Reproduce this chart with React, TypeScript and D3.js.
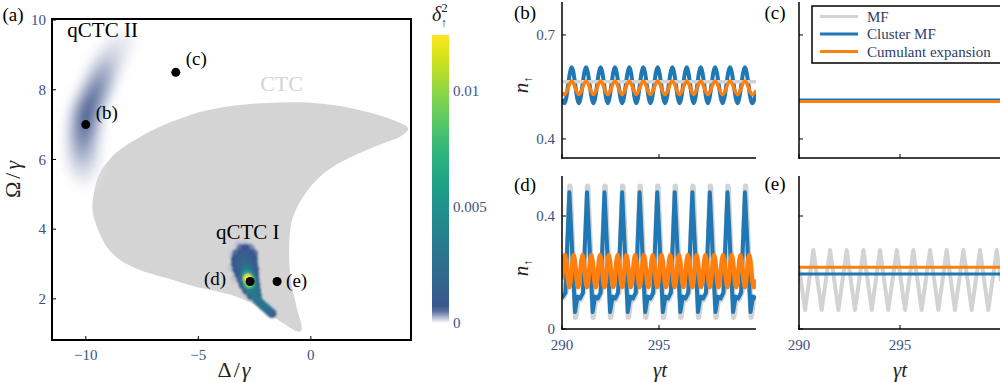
import React from 'react';
import * as d3 from 'd3';

const SERIF = '"Liberation Serif", "DejaVu Serif", serif';
const TICK_COLOR = '#3d5083';
const LEG_COLOR = '#2f3d66';
const C_MF = '#d3d3d3';
const C_CL = '#1f77b4';
const C_CU = '#ff7f0e';

// ---------- panel (a) data ----------
const deltaTicks = [-10, -5, 0];
const omegaTicks = [2, 4, 6, 8, 10];
const cbTicks = [0, 0.005, 0.01];
const cbTickLabels = ['0', '0.005', '0.01'];

// CTC region boundary (Δ/γ, Ω/γ)
const ctcBoundary: [number, number][] = [
  [-9.70, 4.74], [-9.57, 5.25], [-9.40, 5.58], [-9.05, 5.92], [-8.64, 6.20], [-8.1, 6.45],
  [-7.6, 6.64], [-7.0, 6.85], [-6.3, 7.05], [-5.5, 7.24], [-4.93, 7.36], [-3.45, 7.54],
  [-1.97, 7.62], [-0.49, 7.64], [0.99, 7.56], [2.47, 7.37], [3.66, 7.13], [4.32, 6.89],
  [3.96, 6.65], [3.21, 6.46], [2.47, 6.27], [0.99, 5.79], [0.25, 5.41], [-0.34, 4.93],
  [-0.79, 4.36], [-0.93, 3.88], [-0.96, 3.12], [-0.86, 2.45], [-0.64, 1.78], [-0.41, 1.11],
  [-0.56, 1.06], [-1.23, 1.30], [-1.97, 1.62], [-2.71, 1.90], [-3.45, 2.10], [-4.19, 2.22],
  [-4.93, 2.32], [-5.4, 2.40], [-6.41, 2.60], [-7.60, 2.83], [-8.49, 3.12], [-9.08, 3.50],
  [-9.45, 3.98], [-9.68, 4.46],
];

// qCTC I samples (Δ/γ, Ω/γ, δ²)
const qctc1: [number, number, number][] = [
  [-3.45, 3.25, 0.0002], [-3.2, 3.55, 0.0002], [-2.9, 3.55, 0.0002], [-3.5, 2.9, 0.0002], [-3.35, 2.6, 0.0002],
  [-3.1, 3.45, 0.0005], [-2.9, 3.45, 0.0006], [-2.7, 3.45, 0.0004],
  [-3.3, 3.3, 0.0005], [-3.1, 3.3, 0.0009], [-2.9, 3.3, 0.001], [-2.7, 3.3, 0.0009], [-2.55, 3.3, 0.0005],
  [-3.35, 3.15, 0.0007], [-3.15, 3.15, 0.0012], [-2.95, 3.15, 0.0015], [-2.75, 3.15, 0.0012], [-2.55, 3.15, 0.0008],
  [-3.35, 3.0, 0.0008], [-3.15, 3.0, 0.0014], [-2.95, 3.0, 0.002], [-2.75, 3.0, 0.0018], [-2.55, 3.0, 0.001],
  [-3.3, 2.85, 0.0008], [-3.1, 2.85, 0.0015], [-2.9, 2.85, 0.003], [-2.7, 2.85, 0.0022], [-2.5, 2.85, 0.001],
  [-3.2, 2.7, 0.0009], [-3.0, 2.7, 0.002], [-2.85, 2.7, 0.006], [-2.7, 2.7, 0.004], [-2.5, 2.7, 0.0012],
  [-3.1, 2.55, 0.001], [-2.95, 2.55, 0.0035], [-2.8, 2.58, 0.0124], [-2.65, 2.55, 0.006], [-2.48, 2.55, 0.0015],
  [-3.0, 2.4, 0.001], [-2.85, 2.4, 0.004], [-2.74, 2.44, 0.0095], [-2.58, 2.4, 0.004], [-2.45, 2.4, 0.0015],
  [-2.85, 2.25, 0.0012], [-2.7, 2.25, 0.0035], [-2.55, 2.25, 0.003], [-2.42, 2.25, 0.0015],
  [-2.65, 2.1, 0.0015], [-2.5, 2.1, 0.003], [-2.38, 2.1, 0.002],
  [-2.4, 1.98, 0.0025], [-2.28, 1.9, 0.003], [-2.15, 1.82, 0.002], [-2.03, 1.75, 0.0028],
  [-1.92, 1.69, 0.0015], [-1.82, 1.63, 0.002], [-1.73, 1.58, 0.001],
];

// qCTC II samples (Δ/γ, Ω/γ, δ²)
const qctc2: [number, number, number][] = [
  [-8.5, 9.35, 0.00008], [-8.8, 9.05, 0.00013], [-9.05, 8.75, 0.0002], [-9.25, 8.45, 0.0003],
  [-9.45, 8.15, 0.00038], [-9.65, 7.85, 0.00046], [-9.85, 7.55, 0.00052], [-9.98, 7.25, 0.00055],
  [-10.05, 6.95, 0.0005], [-10.1, 6.65, 0.00042], [-10.12, 6.35, 0.00032], [-10.12, 6.05, 0.00022],
  [-10.1, 5.75, 0.00012], [-10.05, 5.45, 0.00006],
  [-8.85, 9.3, 0.00005], [-9.15, 9.0, 0.00008], [-9.4, 8.7, 0.00012], [-9.6, 8.4, 0.00016],
  [-9.8, 8.1, 0.0002], [-10.0, 7.8, 0.00024], [-10.2, 7.5, 0.00026], [-10.33, 7.2, 0.00026],
  [-10.4, 6.9, 0.00024], [-10.45, 6.6, 0.0002], [-10.45, 6.3, 0.00016], [-10.45, 6.0, 0.00012],
  [-10.4, 5.7, 0.00007],
  [-8.15, 9.4, 0.00005], [-8.45, 9.1, 0.00008], [-8.7, 8.8, 0.00012], [-8.9, 8.5, 0.00016],
  [-9.1, 8.2, 0.0002], [-9.3, 7.9, 0.00024], [-9.5, 7.6, 0.00026], [-9.63, 7.3, 0.00026],
  [-9.7, 7.0, 0.00024], [-9.75, 6.7, 0.0002], [-9.77, 6.4, 0.00016], [-9.77, 6.1, 0.00012],
  [-9.75, 5.8, 0.00007],
];

const markerDelta = [-10, -6, -2.7, -1.5];
const markerOmega = [7, 8.5, 2.5, 2.5];
const markerLabels = ['(b)', '(c)', '(d)', '(e)'];

// ---------- time series ----------
const tTicks = [290, 295];
const tTickLabels = ['290', '295'];
const bTicks = [0.4, 0.7];
const dTicks = [0, 0.4];

type P = [number, number];
const bMF: P[] = [[290, 0.565], [300, 0.565]];
const bCluster: P[] = [
  [290, 0.515], [290.13, 0.503], [290.50, 0.607], [290.87, 0.503], [291.24, 0.607], [291.62, 0.503],
  [291.99, 0.607], [292.36, 0.503], [292.73, 0.607], [293.10, 0.503], [293.47, 0.607], [293.83, 0.503],
  [294.19, 0.607], [294.56, 0.503], [294.93, 0.607], [295.31, 0.503], [295.69, 0.607], [296.06, 0.503],
  [296.43, 0.607], [296.79, 0.503], [297.15, 0.607], [297.52, 0.503], [297.89, 0.607], [298.28, 0.503],
  [298.66, 0.607], [299.05, 0.503], [299.43, 0.607], [299.80, 0.503], [300, 0.53],
];
const bCumulant: P[] = [
  [290, 0.533], [290.13, 0.528], [290.50, 0.567], [290.87, 0.528], [291.24, 0.567], [291.62, 0.528],
  [291.99, 0.567], [292.36, 0.528], [292.73, 0.567], [293.10, 0.528], [293.47, 0.567], [293.83, 0.528],
  [294.19, 0.567], [294.56, 0.528], [294.93, 0.567], [295.31, 0.528], [295.69, 0.567], [296.06, 0.528],
  [296.43, 0.567], [296.79, 0.528], [297.15, 0.567], [297.52, 0.528], [297.89, 0.567], [298.28, 0.528],
  [298.66, 0.567], [299.05, 0.528], [299.43, 0.567], [299.80, 0.528], [300, 0.54],
];

const cMF: P[] = [[290, 0.511], [300, 0.511]];
const cCluster: P[] = [[290, 0.5125], [300, 0.5125]];
const cCumulant: P[] = [[290, 0.508], [300, 0.508]];

const dCluster: P[] = [
  [290, 0.110], [290.175, 0.128],
  [290.38, 0.484], [290.67, 0.060], [290.80, 0.115], [290.93, 0.108], [291.08, 0.128],
  [291.29, 0.484], [291.58, 0.060], [291.71, 0.115], [291.84, 0.108], [291.99, 0.128],
  [292.19, 0.484], [292.48, 0.060], [292.61, 0.115], [292.74, 0.108], [292.89, 0.128],
  [293.10, 0.484], [293.39, 0.060], [293.52, 0.115], [293.65, 0.108], [293.80, 0.128],
  [294.00, 0.484], [294.29, 0.060], [294.42, 0.115], [294.55, 0.108], [294.70, 0.128],
  [294.91, 0.484], [295.20, 0.060], [295.33, 0.115], [295.46, 0.108], [295.61, 0.128],
  [295.81, 0.484], [296.10, 0.060], [296.23, 0.115], [296.36, 0.108], [296.51, 0.128],
  [296.72, 0.484], [297.01, 0.060], [297.14, 0.115], [297.27, 0.108], [297.42, 0.128],
  [297.62, 0.484], [297.91, 0.060], [298.04, 0.115], [298.17, 0.108], [298.32, 0.128],
  [298.53, 0.484], [298.82, 0.060], [298.95, 0.115], [299.08, 0.108], [299.23, 0.128],
  [299.43, 0.484], [299.72, 0.060], [299.85, 0.115], [300, 0.108],
];
const dMF: P[] = [
  [290, 0.105], [290.205, 0.130],
  [290.41, 0.505], [290.70, 0.042], [290.83, 0.110], [290.96, 0.104], [291.11, 0.130],
  [291.32, 0.505], [291.61, 0.042], [291.74, 0.110], [291.87, 0.104], [292.02, 0.130],
  [292.22, 0.505], [292.51, 0.042], [292.64, 0.110], [292.77, 0.104], [292.92, 0.130],
  [293.13, 0.505], [293.42, 0.042], [293.55, 0.110], [293.68, 0.104], [293.83, 0.130],
  [294.03, 0.505], [294.32, 0.042], [294.45, 0.110], [294.58, 0.104], [294.73, 0.130],
  [294.94, 0.505], [295.23, 0.042], [295.36, 0.110], [295.49, 0.104], [295.64, 0.130],
  [295.84, 0.505], [296.13, 0.042], [296.26, 0.110], [296.39, 0.104], [296.54, 0.130],
  [296.75, 0.505], [297.04, 0.042], [297.17, 0.110], [297.30, 0.104], [297.45, 0.130],
  [297.65, 0.505], [297.94, 0.042], [298.07, 0.110], [298.20, 0.104], [298.35, 0.130],
  [298.56, 0.505], [298.85, 0.042], [298.98, 0.110], [299.11, 0.104], [299.26, 0.130],
  [299.46, 0.505], [299.75, 0.042], [299.88, 0.110], [300, 0.106],
];
const dCumulant: P[] = [
  [290, 0.175],
  [290.15, 0.262], [290.38, 0.148], [290.60, 0.262], [290.83, 0.148], [291.06, 0.262], [291.29, 0.148],
  [291.51, 0.262], [291.74, 0.148], [291.96, 0.262], [292.19, 0.148], [292.41, 0.262], [292.64, 0.148],
  [292.87, 0.262], [293.10, 0.148], [293.32, 0.262], [293.55, 0.148], [293.77, 0.262], [294.00, 0.148],
  [294.22, 0.262], [294.45, 0.148], [294.68, 0.262], [294.91, 0.148], [295.13, 0.262], [295.36, 0.148],
  [295.58, 0.262], [295.81, 0.148], [296.03, 0.262], [296.26, 0.148], [296.49, 0.262], [296.72, 0.148],
  [296.94, 0.262], [297.17, 0.148], [297.39, 0.262], [297.62, 0.148], [297.84, 0.262], [298.07, 0.148],
  [298.30, 0.262], [298.53, 0.148], [298.75, 0.262], [298.98, 0.148], [299.20, 0.262], [299.43, 0.148],
  [299.65, 0.262], [299.88, 0.148], [300, 0.175],
];

const eMF: P[] = [
  [290, 0.22], [290.30, 0.067], [290.71, 0.28], [291.12, 0.067], [291.54, 0.28], [291.95, 0.067],
  [292.36, 0.28], [292.77, 0.067], [293.19, 0.28], [293.60, 0.067], [294.01, 0.28], [294.42, 0.067],
  [294.84, 0.28], [295.25, 0.067], [295.66, 0.28], [296.07, 0.067], [296.49, 0.28], [296.90, 0.067],
  [297.31, 0.28], [297.72, 0.067], [298.14, 0.28], [298.55, 0.067], [298.96, 0.28], [299.37, 0.067],
  [299.79, 0.28], [300, 0.17],
];
const eCluster: P[] = [[290, 0.195], [300, 0.195]];
const eCumulant: P[] = [[290, 0.219], [300, 0.219]];

const legendLabels = ['MF', 'Cluster MF', 'Cumulant expansion'];
const legendColors = [C_MF, C_CL, C_CU];

// colour map: truncated viridis with white fade at the bottom
const CB_MAX = 0.0124;
const FADE = 0.0006;
function cmap(v: number): string {
  const t = Math.max(0, Math.min(1, v / CB_MAX));
  const vir = d3.interpolateViridis(0.24 + 0.76 * Math.pow(t, 1.15));
  const f = Math.max(0, Math.min(1, v / FADE));
  return d3.interpolateRgb('#ffffff', vir)(f);
}

type PanelProps = {
  id: string;
  left: number; right: number; top: number; bottom: number;
  yDomain: [number, number];
  yTicks: number[];
  yLabels: boolean;
  xLabels: boolean;
  series: { data: P[]; color: string; width: number; curve: any }[];
};

function Panel(p: PanelProps) {
  const x = d3.scaleLinear().domain([290, 300]).range([p.left, p.right]);
  const y = d3.scaleLinear().domain(p.yDomain).range([p.bottom, p.top]);
  return (
    <g>
      <defs>
        <clipPath id={p.id}>
          <rect x={p.left} y={p.top - 4} width={p.right - p.left} height={p.bottom - p.top + 4} />
        </clipPath>
      </defs>
      <g clipPath={`url(#${p.id})`}>
        {p.series.map((s, i) => {
          const line = d3.line<P>().x(d => x(d[0])).y(d => y(d[1])).curve(s.curve);
          return (
            <path key={i} d={line(s.data) || ''} fill="none" stroke={s.color}
              strokeWidth={s.width} strokeLinejoin="round" strokeLinecap="butt" />
          );
        })}
      </g>
      <line x1={p.left} x2={p.left} y1={p.top} y2={p.bottom + 0.75} stroke="#000" strokeWidth={1.5} />
      <line x1={p.left - 0.75} x2={p.right} y1={p.bottom} y2={p.bottom} stroke="#000" strokeWidth={1.5} />
      {p.yTicks.map((v, i) => (
        <g key={'y' + i}>
          <line x1={p.left} x2={p.left + 4} y1={y(v)} y2={y(v)} stroke="#000" strokeWidth={1} />
          {p.yLabels && (
            <text x={p.left - 7} y={y(v)} dy="0.35em" textAnchor="end" fontSize={15}
              fontFamily={SERIF} fill={TICK_COLOR}>{String(v)}</text>
          )}
        </g>
      ))}
      {tTicks.map((v, i) => (
        <g key={'x' + i}>
          <line x1={x(v)} x2={x(v)} y1={p.bottom} y2={p.bottom - 4} stroke="#000" strokeWidth={1} />
          {p.xLabels && (
            <text x={x(v)} y={p.bottom + 21} textAnchor="middle" fontSize={15}
              fontFamily={SERIF} fill={TICK_COLOR}>{tTickLabels[i]}</text>
          )}
        </g>
      ))}
    </g>
  );
}

export default function App() {
  const xA = d3.scaleLinear().domain([-11.5, 4.45]).range([52, 411]);
  const yA = d3.scaleLinear().domain([0.82, 10.03]).range([340, 19]);
  const cbY = d3.scaleLinear().domain([0, CB_MAX]).range([323, 35]);

  const ctcPath = d3.line<[number, number]>()
    .x(d => xA(d[0])).y(d => yA(d[1]))
    .curve(d3.curveCatmullRomClosed.alpha(0.5))(ctcBoundary) || '';

  const q1 = [...qctc1].sort((a, b) => a[2] - b[2]);
  const q2 = [...qctc2].sort((a, b) => a[2] - b[2]);

  const gradStops = d3.range(0, 1.0001, 0.02).map(t => ({ t, c: cmap(t * CB_MAX) }));

  const labelOffsets: [number, number, string][] = [
    [10, -12, 'start'], [10, -14, 'start'], [-24, -3, 'end'], [9, -1, 'start'],
  ];

  const panelB = {
    left: 562, right: 756, top: 2, bottom: 158, yDomain: [0.345, 0.795] as [number, number],
  };
  const panelD = {
    left: 562, right: 756, top: 176, bottom: 329, yDomain: [0, 0.5416] as [number, number],
  };

  return (
    <svg width={1000} height={382} style={{ position: 'absolute', left: 0, top: 0, background: '#fff' }}
      fontFamily={SERIF}>
      <defs>
        <clipPath id="clipA"><rect x={52} y={19} width={359} height={321} /></clipPath>
        <filter id="blurBig" x="-50%" y="-50%" width="200%" height="200%">
          <feGaussianBlur stdDeviation={6} />
        </filter>
        <filter id="blurSmall" x="-50%" y="-50%" width="200%" height="200%">
          <feGaussianBlur stdDeviation={1.1} />
        </filter>
        <linearGradient id="cbGrad" x1="0" y1="1" x2="0" y2="0">
          {gradStops.map((s, i) => <stop key={i} offset={s.t} stopColor={s.c} />)}
        </linearGradient>
      </defs>

      {/* panel (a) */}
      <g clipPath="url(#clipA)">
        <path d={ctcPath} fill="#d4d4d4" />
        <g filter="url(#blurBig)">
          {q2.map((d, i) => (
            <circle key={i} cx={xA(d[0])} cy={yA(d[1])} r={9} fill={cmap(d[2])} />
          ))}
        </g>
        <g filter="url(#blurSmall)">
          {q1.map((d, i) => (
            <circle key={i} cx={xA(d[0])} cy={yA(d[1])} r={4.6} fill={cmap(d[2])} />
          ))}
        </g>
      </g>
      <text x={xA(-1.3)} y={yA(7.95)} textAnchor="middle" fontSize={22} fill="#d4d4d4">CTC</text>
      <text x={xA(-9.25)} y={yA(9.5)} textAnchor="middle" fontSize={21} fill="#000">qCTC II</text>
      <text x={xA(-2.8)} y={yA(3.72)} textAnchor="middle" fontSize={21} fill="#000">qCTC I</text>
      {markerDelta.map((dv, i) => (
        <g key={i}>
          <circle cx={xA(dv)} cy={yA(markerOmega[i])} r={4.5} fill="#000" />
          <text x={xA(dv) + labelOffsets[i][0]} y={yA(markerOmega[i]) + labelOffsets[i][1]} dy="0.35em"
            textAnchor={labelOffsets[i][2] as any} fontSize={19} fill="#000">{markerLabels[i]}</text>
        </g>
      ))}
      <rect x={52} y={19} width={359} height={321} fill="none" stroke="#000" strokeWidth={2} />
      {deltaTicks.map((v, i) => (
        <g key={'dx' + i}>
          <line x1={xA(v)} x2={xA(v)} y1={340} y2={336} stroke="#000" strokeWidth={1} />
          <text x={xA(v)} y={360} textAnchor="middle" fontSize={15} fill={TICK_COLOR}>
            {v < 0 ? '\u2212' + Math.abs(v) : String(v)}
          </text>
        </g>
      ))}
      {omegaTicks.map((v, i) => (
        <g key={'oy' + i}>
          <line x1={52} x2={56} y1={yA(v)} y2={yA(v)} stroke="#000" strokeWidth={1} />
          <text x={46} y={yA(v)} dy="0.35em" textAnchor="end" fontSize={15} fill={TICK_COLOR}>{String(v)}</text>
        </g>
      ))}
      <text x={235} y={377} textAnchor="middle" fontSize={22} letterSpacing={2} fill="#222">
        Δ/<tspan fontStyle="italic">γ</tspan>
      </text>
      <text transform="translate(20,178) rotate(-90)" textAnchor="middle" fontSize={22} letterSpacing={3} fill="#222">
        Ω/<tspan fontStyle="italic">γ</tspan>
      </text>
      <text x={13} y={21} textAnchor="middle" fontSize={19} fill="#000">(a)</text>

      {/* colorbar */}
      <rect x={432} y={35} width={17} height={288} fill="url(#cbGrad)" />
      {cbTicks.map((v, i) => (
        <text key={i} x={453} y={cbY(v)} dy="0.35em" fontSize={15} fill={TICK_COLOR}>{cbTickLabels[i]}</text>
      ))}
      <text x={432} y={21} fontSize={20} fill="#222">
        <tspan fontStyle="italic">δ</tspan>
        <tspan dy={-9} fontSize={13}>2</tspan>
        <tspan dx={-7} dy={15} fontSize={12}>↑</tspan>
      </text>

      {/* panel (b) */}
      <Panel id="clipB" {...panelB} yTicks={bTicks} yLabels={true} xLabels={false}
        series={[
          { data: bCluster, color: C_CL, width: 4, curve: d3.curveMonotoneX },
          { data: bMF, color: C_MF, width: 3.5, curve: d3.curveLinear },
          { data: bCumulant, color: C_CU, width: 3.5, curve: d3.curveMonotoneX },
        ]} />
      {/* panel (c) */}
      <Panel id="clipC" left={799} right={1001} top={2} bottom={158} yDomain={[0.345, 0.795]}
        yTicks={bTicks} yLabels={false} xLabels={false}
        series={[
          { data: cMF, color: C_MF, width: 3, curve: d3.curveLinear },
          { data: cCluster, color: C_CL, width: 3, curve: d3.curveLinear },
          { data: cCumulant, color: C_CU, width: 3, curve: d3.curveLinear },
        ]} />
      {/* panel (d) */}
      <Panel id="clipD" {...panelD} yTicks={dTicks} yLabels={true} xLabels={true}
        series={[
          { data: dMF, color: C_MF, width: 5.5, curve: d3.curveLinear },
          { data: dCluster, color: C_CL, width: 4, curve: d3.curveLinear },
          { data: dCumulant, color: C_CU, width: 4.5, curve: d3.curveMonotoneX },
        ]} />
      {/* panel (e) */}
      <Panel id="clipE" left={799} right={1001} top={176} bottom={329} yDomain={[0, 0.5416]}
        yTicks={dTicks} yLabels={false} xLabels={true}
        series={[
          { data: eMF, color: C_MF, width: 4, curve: d3.curveLinear },
          { data: eCluster, color: C_CL, width: 3, curve: d3.curveLinear },
          { data: eCumulant, color: C_CU, width: 3, curve: d3.curveLinear },
        ]} />

      {/* panel labels and axis titles (right) */}
      <text x={525} y={19} textAnchor="middle" fontSize={19} fill="#000">(b)</text>
      <text x={775} y={19} textAnchor="middle" fontSize={19} fill="#000">(c)</text>
      <text x={525} y={191} textAnchor="middle" fontSize={19} fill="#000">(d)</text>
      <text x={775} y={190} textAnchor="middle" fontSize={19} fill="#000">(e)</text>
      {[85, 268].map((cy, i) => (
        <text key={i} transform={`translate(528,${cy}) rotate(-90)`} textAnchor="middle" fontSize={21} fill="#222">
          <tspan fontStyle="italic">n</tspan>
          <tspan dy={4} fontSize={12}>↑</tspan>
        </text>
      ))}
      {[660, 900].map((cx, i) => (
        <text key={i} x={cx} y={377} textAnchor="middle" fontSize={21} fontStyle="italic" fill="#222">γt</text>
      ))}

      {/* legend */}
      <rect x={812} y={6} width={195} height={57} fill="#fff" stroke="#000" strokeWidth={1.5} />
      {legendLabels.map((lab, i) => (
        <g key={i}>
          <line x1={820} x2={858} y1={16.5 + i * 17.5} y2={16.5 + i * 17.5} stroke={legendColors[i]} strokeWidth={3} />
          <text x={867} y={16.5 + i * 17.5} dy="0.35em" fontSize={15} fill={LEG_COLOR}>{lab}</text>
        </g>
      ))}
    </svg>
  );
}
